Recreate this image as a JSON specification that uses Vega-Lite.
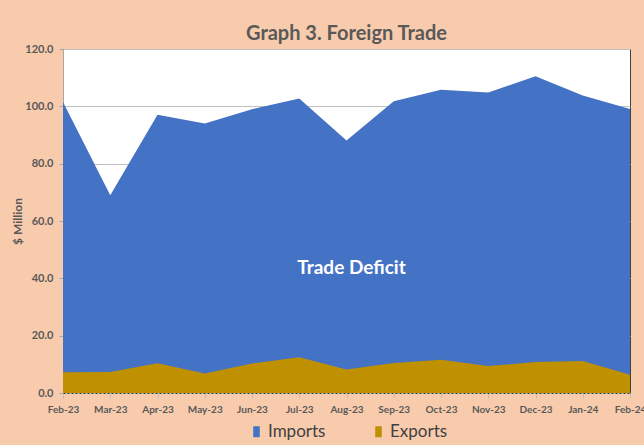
{
  "$schema": "https://vega.github.io/schema/vega-lite/v6.json",
  "autosize": {"type": "none"},
  "width": 567,
  "height": 344,
  "padding": {"left": 63, "top": 49, "right": 14, "bottom": 52},
  "background": "#F8CBAD",
  "config": {
    "font": "Lato",
    "view": {"fill": "white", "stroke": "#404040", "strokeWidth": 1}
  },
  "title": {
    "text": "Graph 3. Foreign Trade",
    "font": "Lato",
    "fontSize": 20,
    "fontWeight": "bold",
    "color": "#595959",
    "anchor": "middle",
    "offset": -1
  },
  "datasets": {
    "trade": [
      {"month": "Feb-23", "imports": 101.5, "exports": 7.2},
      {"month": "Mar-23", "imports": 69.0, "exports": 7.3},
      {"month": "Apr-23", "imports": 97.1, "exports": 10.4},
      {"month": "May-23", "imports": 94.0, "exports": 6.8},
      {"month": "Jun-23", "imports": 99.0, "exports": 10.3},
      {"month": "Jul-23", "imports": 102.7, "exports": 12.5},
      {"month": "Aug-23", "imports": 88.1, "exports": 8.2},
      {"month": "Sep-23", "imports": 101.8, "exports": 10.5},
      {"month": "Oct-23", "imports": 105.8, "exports": 11.6},
      {"month": "Nov-23", "imports": 104.8, "exports": 9.4},
      {"month": "Dec-23", "imports": 110.5, "exports": 10.8},
      {"month": "Jan-24", "imports": 103.8, "exports": 11.2},
      {"month": "Feb-24", "imports": 99.1, "exports": 6.4}
    ],
    "note": [{"month": "Aug-23", "y": 43.5, "label": "Trade Deficit"}]
  },
  "encoding": {
    "x": {
      "field": "month",
      "type": "nominal",
      "sort": null,
      "scale": {"type": "point", "padding": 0},
      "axis": {
        "title": null,
        "labelAngle": 0,
        "labelFontSize": 10,
        "labelFontWeight": "bold",
        "labelColor": "#595959",
        "labelPadding": 6,
        "domainColor": "#404040",
        "domainDash": [2, 2],
        "tickColor": "#BFBFBF",
        "tickSize": 5,
        "grid": false
      }
    }
  },
  "layer": [
    {
      "data": {"name": "trade"},
      "mark": {"type": "area", "opacity": 1},
      "encoding": {
        "y": {
          "field": "imports",
          "type": "quantitative",
          "scale": {"domain": [0, 120]},
          "axis": {
            "title": "$ Million",
            "titleFontSize": 12,
            "titleFontWeight": "bold",
            "titleColor": "#595959",
            "titlePadding": 0,
            "values": [0, 20, 40, 60, 80, 100, 120],
            "format": ".1f",
            "labelFontSize": 11,
            "labelFontWeight": "bold",
            "labelColor": "#595959",
            "labelPadding": 6,
            "tickSize": 4,
            "tickColor": "#A6A6A6",
            "domainColor": "#A6A6A6",
            "gridColor": "#BFBFBF",
            "gridWidth": 1
          }
        },
        "color": {
          "datum": "Imports",
          "type": "nominal",
          "scale": {"domain": ["Imports", "Exports"], "range": ["#4472C4", "#BF9000"]},
          "legend": {
            "title": null,
            "orient": "none",
            "legendX": 185,
            "legendY": 374,
            "direction": "horizontal",
            "labelFontSize": 17,
            "labelColor": "#404040",
            "symbolType": "M-0.6,-1H0.6V1H-0.6Z",
            "symbolSize": 120,
            "symbolOpacity": 1,
            "columnPadding": 44,
            "labelOffset": 3
          }
        }
      }
    },
    {
      "data": {"name": "trade"},
      "mark": {"type": "area", "opacity": 1},
      "encoding": {
        "y": {"field": "exports", "type": "quantitative"},
        "color": {"datum": "Exports", "type": "nominal"}
      }
    },
    {
      "data": {"name": "note"},
      "mark": {"type": "text", "color": "white", "fontSize": 19, "fontWeight": "bold", "dx": 5, "font": "Lato"},
      "encoding": {
        "y": {"field": "y", "type": "quantitative"},
        "text": {"field": "label"}
      }
    }
  ]
}
